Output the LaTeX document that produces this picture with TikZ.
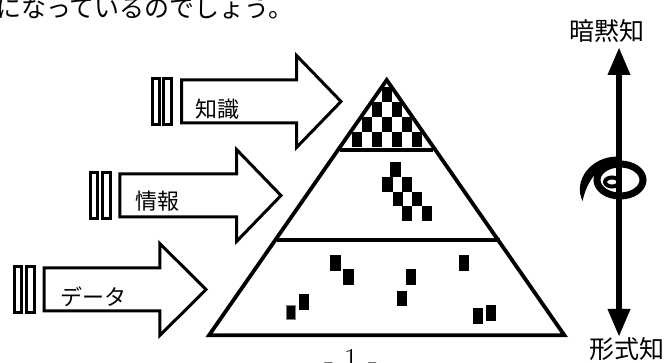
\documentclass[tikz,border=0pt]{standalone}
\usepackage{fontspec}
\newfontfamily\jp{Noto Sans CJK JP}
\usetikzlibrary{arrows.meta}
\newcommand{\bigarrow}[5]{% #1 name, #2 body left, #3 centre y, #4 head x, #5 tip x
  \draw[blockarrow] (#2,#3-21.5) coordinate (#1-a) -- (#4,#3-21.5) -- (#4,#3-46) -- (#5,#3) coordinate (#1-tip)
     -- (#4,#3+46) -- (#4,#3+21.5) -- (#2,#3+21.5) -- cycle;
  \draw[barbox] (#2-29.4,#3-22.7) rectangle (#2-22.4,#3+22.7);
  \draw[barbox] (#2-17.7,#3-22.7) rectangle (#2-9.7,#3+22.7);
}
\begin{document}
\begin{tikzpicture}[x=1pt,y=-1pt,
  blockarrow/.style={draw=black, line width=3pt, fill=white, line join=miter},
  barbox/.style={draw=black, line width=3pt, fill=white},
  pyr/.style={draw=black, line width=3.8pt, line join=miter},
  divline/.style={draw=black, line width=4pt},
  sq/.style={fill=black},
  jlabel/.style={font=\jp\fontsize{22}{22}\selectfont, inner sep=0pt, anchor=west},
  axlabel/.style={font=\jp\fontsize{25}{25}\selectfont, inner sep=0pt},
  axline/.style={draw=black, line width=6.5pt, {Triangle[width=21pt,length=28pt]}-{Triangle[width=21pt,length=28pt]}}
]
\useasboundingbox (0,0) rectangle (664,363);

% cut-off heading line
\node[font=\jp\fontsize{25}{25}\selectfont, inner sep=0pt, anchor=base west] (head) at (-4,18) {になっているのでしょう。};

% pyramid
\coordinate (apex) at (386.7,80);
\coordinate (bl) at (209,335.3);
\coordinate (br) at (564.4,335.3);
\draw[pyr] (apex) -- (bl) -- (br) -- cycle;
\coordinate (d1l) at (340,149.7);
\coordinate (d1r) at (433,149.7);
\coordinate (d2l) at (276.7,240.3);
\coordinate (d2r) at (500,240.3);
\draw[divline] (d1l) -- (d1r);
\draw[divline] (d2l) -- (d2r);

% checker (knowledge)
\foreach \c in {3}{\fill[sq] (351.7+10*\c,87) rectangle ++(10,15);}
\foreach \c in {2,4}{\fill[sq] (351.7+10*\c,102) rectangle ++(10,15);}
\foreach \c in {1,3,5}{\fill[sq] (351.7+10*\c,117) rectangle ++(10,15);}
\foreach \c in {0,2,4,6}{\fill[sq] (351.7+10*\c,132) rectangle ++(10,15);}

% information squares
\fill[sq] (390,162) rectangle (401,177);
\fill[sq] (382,177) rectangle (393,192);
\fill[sq] (402,177) rectangle (412,192);
\fill[sq] (393,192) rectangle (403,206);
\fill[sq] (412,192) rectangle (422,206);
\fill[sq] (402,206) rectangle (412,221);
\fill[sq] (422,206) rectangle (432,221);

% data squares
\fill[sq] (330,255) rectangle (340.7,270.7);
\fill[sq] (343.3,269) rectangle (354,285);
\fill[sq] (405.7,269) rectangle (416,285);
\fill[sq] (396.7,290.7) rectangle (407.3,306);
\fill[sq] (459.3,255) rectangle (469.3,270.7);
\fill[sq] (299,294.3) rectangle (309.3,310);
\draw[line width=1.2pt, draw=gray, fill=black] (286.6,305.6) rectangle (295.4,319.4);
\fill[sq] (472.7,308.3) rectangle (482.7,324);
\fill[sq] (485.7,305) rectangle (496,320.7);

% block arrows
\bigarrow{data}{44.2}{289.5}{159.8}{206}
\bigarrow{info}{119.8}{195.5}{236.5}{281}
\bigarrow{know}{181.5}{101.5}{296.5}{341}
\node[jlabel] (ldata) at (60,297) {データ};
\node[jlabel] (linfo) at (135,201) {情報};
\node[jlabel] (lknow) at (195,109) {知識};

% tacit / explicit axis
\node[axlabel] (tacit) at (607,31) {暗黙知};
\node[axlabel] (explicit) at (627,349.5) {形式知};
\coordinate (axtop) at (619,47);
\coordinate (axbot) at (619,337);
% spiral
\fill (582.5,201) .. controls (573,181) and (590,157) .. (617,156.5) -- (617,164) .. controls (598,165) and (587,181) .. (582.5,201) -- cycle;
\draw[line width=7pt] (620,180) ellipse [x radius=23, y radius=16];
\draw[line width=4pt, fill=white] (612,182) ellipse [x radius=7, y radius=4.5];
\draw[axline] (axtop) -- (axbot);

% page number
\node[font=\fontsize{32}{32}\selectfont, inner sep=0pt, anchor=base] (pnum) at (351,370.5) {- 1 -};
\end{tikzpicture}
\end{document}
